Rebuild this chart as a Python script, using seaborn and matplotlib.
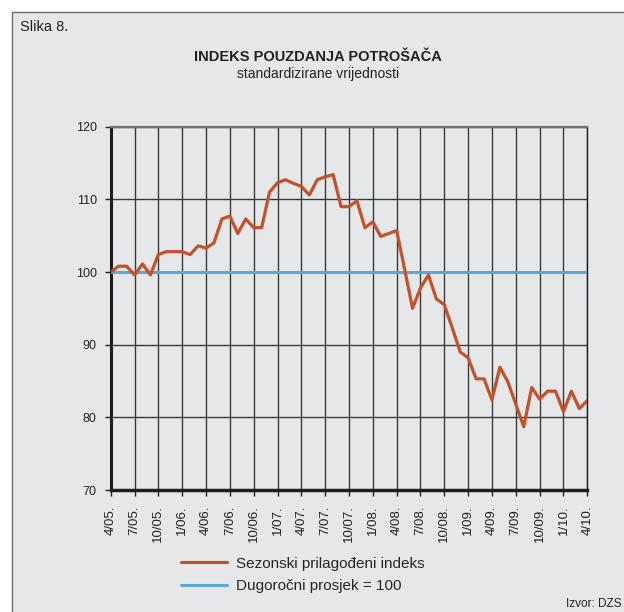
import matplotlib
matplotlib.use("Agg")
import matplotlib.pyplot as plt
import seaborn as sns
import pandas as pd
from matplotlib.patches import Rectangle

# ---- data ----
months = list(range(61))  # 4/05 .. 4/10, monthly
tick_positions = list(range(0, 61, 3))
tick_labels = ['4/05.', '7/05.', '10/05.', '1/06.', '4/06.', '7/06.', '10/06.',
               '1/07.', '4/07.', '7/07.', '10/07.', '1/08.', '4/08.', '7/08.',
               '10/08.', '1/09.', '4/09.', '7/09.', '10/09.', '1/10.', '4/10.']
index_values = [100.0, 100.8, 100.8, 99.6, 101.1, 99.6, 102.4, 102.8, 102.8, 102.8,
                102.4, 103.6, 103.3, 104.0, 107.3, 107.7, 105.3, 107.3, 106.1, 106.1,
                111.0, 112.3, 112.7, 112.2, 111.8, 110.6, 112.7, 113.1, 113.4, 109.0,
                109.0, 109.8, 106.1, 106.9, 104.9, 105.3, 105.7, 100.4, 95.0, 97.8,
                99.6, 96.3, 95.5, 92.3, 89.0, 88.2, 85.3, 85.3, 82.4, 86.9,
                84.9, 81.8, 78.7, 84.1, 82.5, 83.6, 83.6, 80.8, 83.6, 81.2, 82.3]
long_term_avg = [100.0] * len(months)
y_ticks = [70, 80, 90, 100, 110, 120]
series_names = ['Sezonski prilagođeni indeks', 'Dugoročni prosjek = 100']

df = pd.DataFrame({'m': months, 'idx': index_values, 'avg': long_term_avg})

# ---- style ----
sns.set_theme(style="ticks")
plt.rcParams['font.family'] = ['Liberation Sans', 'DejaVu Sans']

W, H = 624, 612
BG = '#e6e7e9'
fig = plt.figure(figsize=(W / 100, H / 100), dpi=100, facecolor='white')

# outer frame
frame = Rectangle((12 / W, -0.05), 1.1, 1 - 12 / H + 0.05, transform=fig.transFigure,
                  facecolor=BG, edgecolor='#6a6a6a', linewidth=1.0, zorder=-10)
fig.patches.append(frame)

left, right, top, bottom = 110.7, 587.3, 126.7, 490.0
ax = fig.add_axes([left / W, 1 - bottom / H, (right - left) / W, (bottom - top) / H])
ax.set_facecolor(BG)

sns.lineplot(data=df, x='m', y='avg', ax=ax, color='#5aa8d6', linewidth=2.2,
             label=series_names[1], zorder=3)
sns.lineplot(data=df, x='m', y='idx', ax=ax, color='#c1522b', linewidth=2.3,
             label=series_names[0], zorder=4)

ax.set_xlim(0, 60)
ax.set_ylim(70, 120)
ax.set_xticks(tick_positions)
ax.set_xticklabels(tick_labels, rotation=90, fontsize=9.5, color='#222222')
ax.set_yticks(y_ticks)
ax.set_yticklabels([str(v) for v in y_ticks], fontsize=9, color='#222222')
ax.set_xlabel('')
ax.set_ylabel('')

ax.grid(True, color='#3a3a3a', linewidth=1.0)
ax.set_axisbelow(True)
ax.tick_params(axis='x', length=4, width=1, color='#222222', pad=7, direction='out')
ax.tick_params(axis='y', length=4, width=1, color='#222222', pad=6, direction='out')

for side, lw, col in [('left', 2.2, '#1e1e1e'), ('bottom', 2.5, '#1e1e1e'),
                      ('right', 1.0, '#1e1e1e'), ('top', 1.6, '#707070')]:
    ax.spines[side].set_visible(True)
    ax.spines[side].set_linewidth(lw)
    ax.spines[side].set_color(col)

handles, labels = ax.get_legend_handles_labels()
ax.get_legend().remove()
order = [labels.index(series_names[0]), labels.index(series_names[1])]
fig.legend([handles[i] for i in order], [labels[i] for i in order],
           loc='center left', bbox_to_anchor=(181 / W, 1 - 575 / H),
           frameon=False, fontsize=11, handlelength=3.0, handletextpad=0.6,
           labelspacing=0.55, borderpad=0, borderaxespad=0)

fig.text(20 / W, 1 - 27 / H, 'Slika 8.', fontsize=10.5, va='center', ha='left',
         color='#222222')
fig.text(318 / W, 1 - 57 / H, 'INDEKS POUZDANJA POTROŠAČA', fontsize=10.5,
         fontweight='bold', va='center', ha='center', color='#222222')
fig.text(318 / W, 1 - 74 / H, 'standardizirane vrijednosti', fontsize=10,
         va='center', ha='center', color='#222222')
fig.text(621 / W, 1 - 607 / H, 'Izvor: DZS', fontsize=8.5, va='baseline',
         ha='right', color='#222222')

fig.savefig('out.png', dpi=100, facecolor='white')
